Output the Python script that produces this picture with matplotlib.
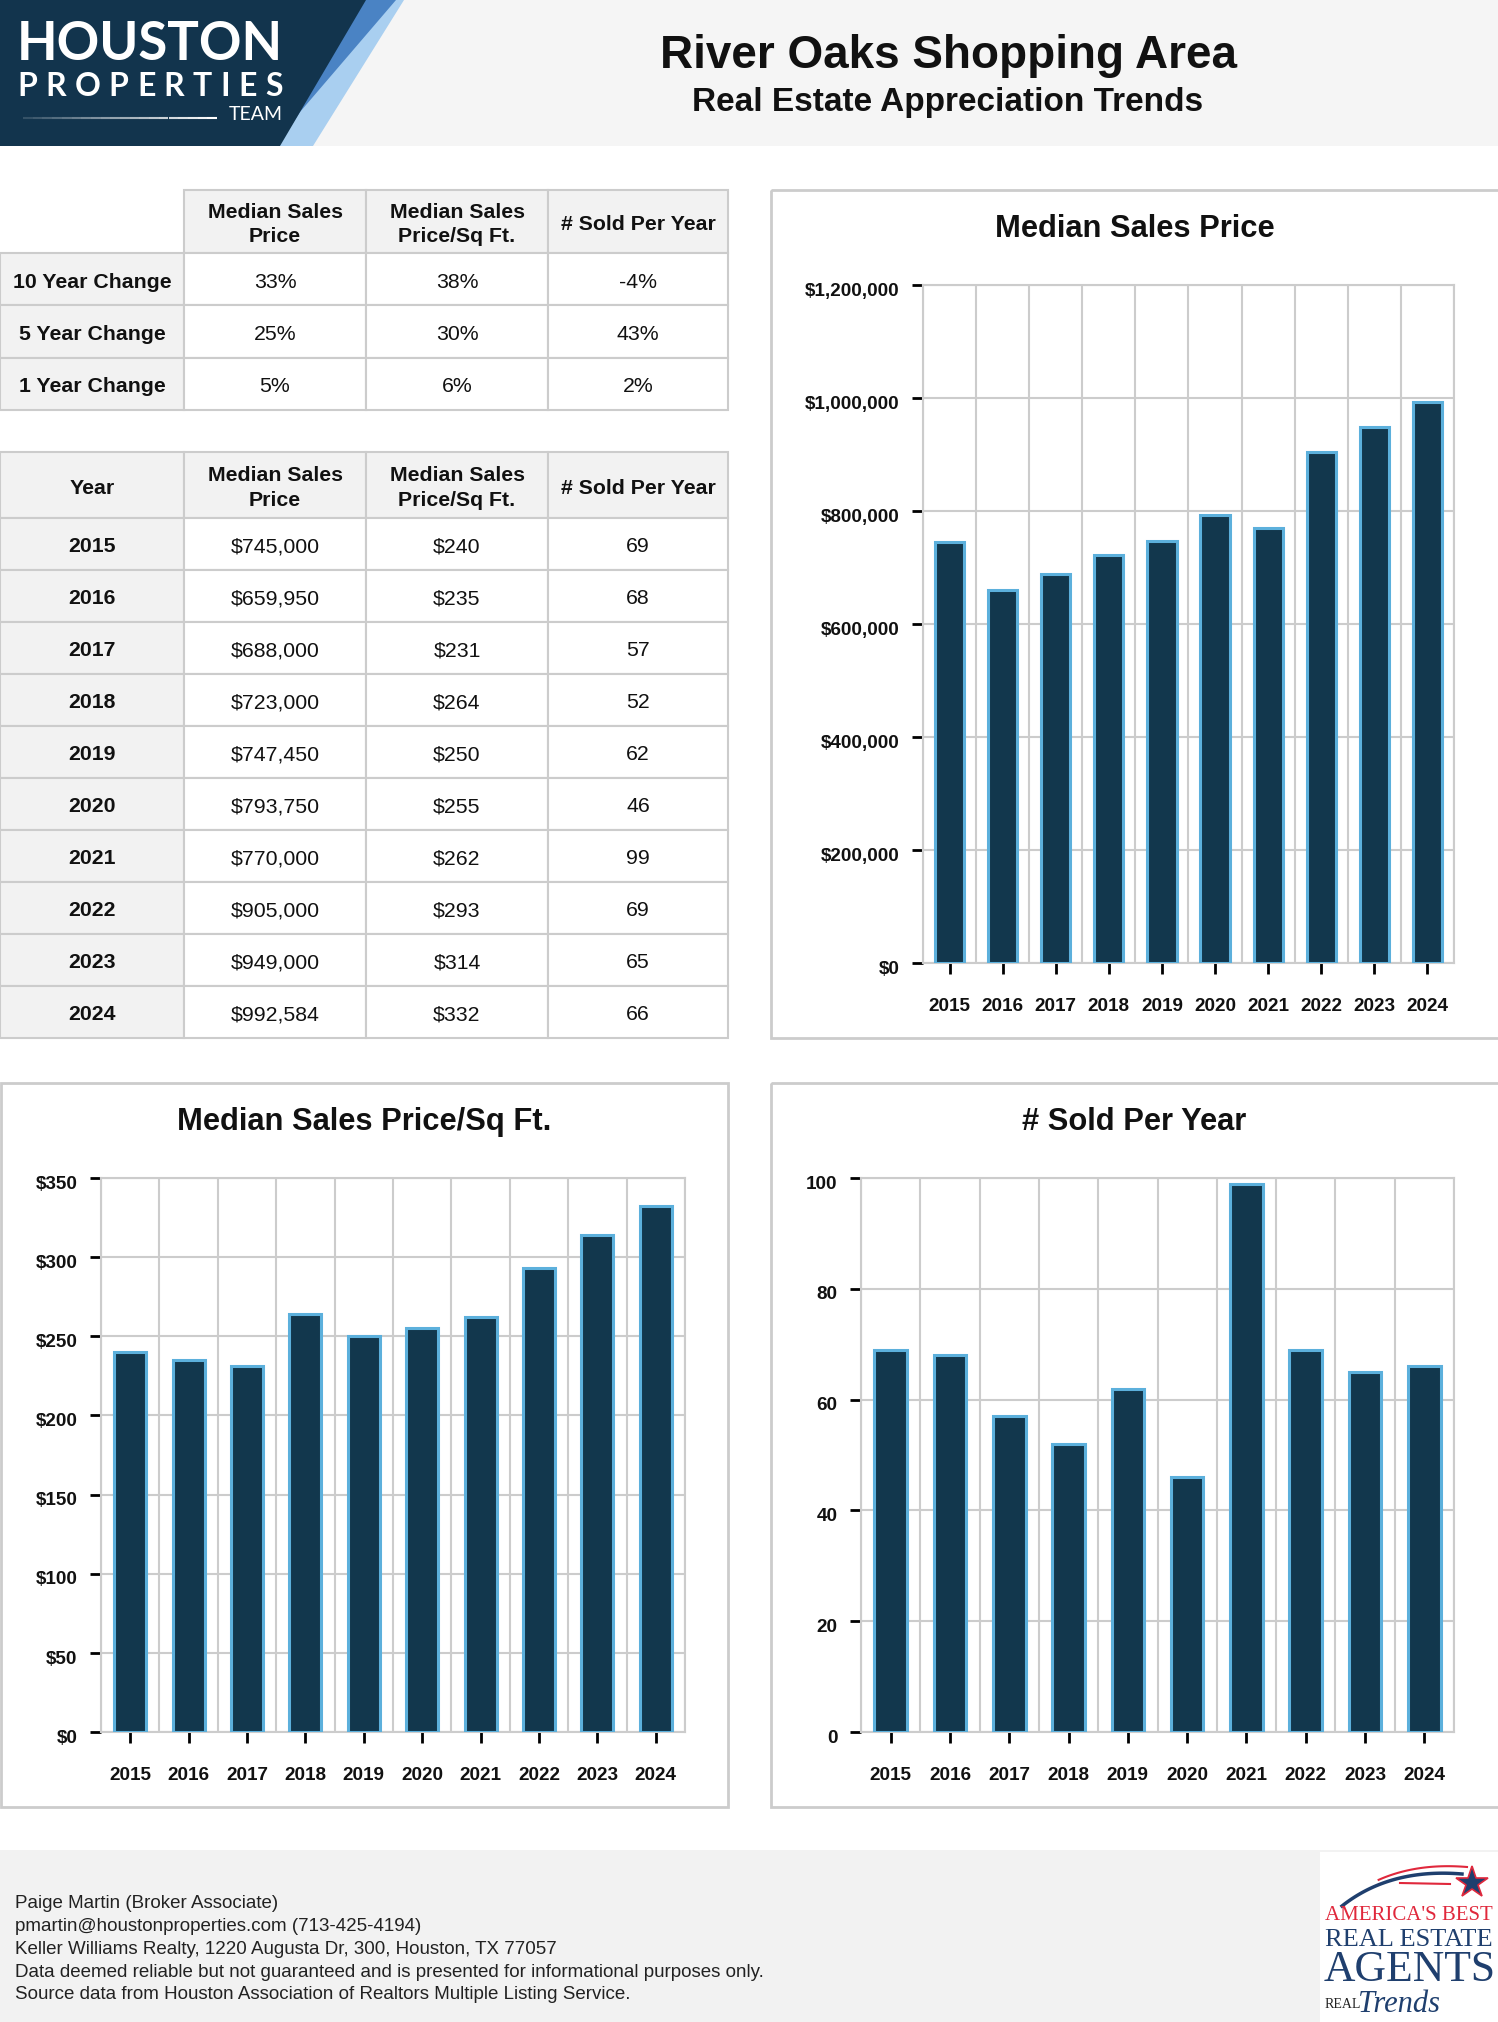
import numpy as np
import matplotlib
matplotlib.use("Agg")
import matplotlib.pyplot as plt
from matplotlib.patches import Rectangle, Polygon
from matplotlib.ticker import FuncFormatter
from matplotlib.transforms import ScaledTranslation

plt.rcParams['font.family'] = ['Liberation Sans', 'DejaVu Sans']

W, H = 1498, 2022

# data
years = [2015, 2016, 2017, 2018, 2019, 2020, 2021, 2022, 2023, 2024]
median_price = [745000, 659950, 688000, 723000, 747450, 793750, 770000, 905000, 949000, 992584]
price_sqft = [240, 235, 231, 264, 250, 255, 262, 293, 314, 332]
sold_per_year = [69, 68, 57, 52, 62, 46, 99, 69, 65, 66]

change_labels = ["10 Year Change", "5 Year Change", "1 Year Change"]
change_price = [33, 25, 5]
change_sqft = [38, 30, 6]
change_sold = [-4, 43, 2]

col_headers = ["Median Sales\nPrice", "Median Sales\nPrice/Sq Ft.", "# Sold Per Year"]

footer_lines = [
    "Paige Martin (Broker Associate)",
    "pmartin@houstonproperties.com (713-425-4194)",
    "Keller Williams Realty, 1220 Augusta Dr, 300, Houston, TX 77057",
    "Data deemed reliable but not guaranteed and is presented for informational purposes only.",
    "Source data from Houston Association of Realtors Multiple Listing Service.",
]

NAVY = '#12374d'
EDGE = '#5cb0dc'
GRID = '#cccccc'
GRAY = '#f2f2f2'

fig = plt.figure(figsize=(W / 100, H / 100), dpi=100)
bg = fig.add_axes([0, 0, 1, 1])
bg.set_xlim(0, W)
bg.set_ylim(H, 0)
bg.axis('off')
renderer = fig.canvas.get_renderer()


def px_axes(l, t, r, b):
    return fig.add_axes([l / W, 1 - b / H, (r - l) / W, (b - t) / H])


def fit_text(x, y, s, width, size=20, **kw):
    t = bg.text(x, y, s, fontsize=size, **kw)
    w = t.get_window_extent(renderer).width
    t.set_fontsize(size * width / w)
    return t


def spaced_text(x0, x1, y, s, size, **kw):
    ts = [bg.text(0, y, c, fontsize=size, ha='left', va='center', **kw) for c in s]
    ws = [t.get_window_extent(renderer).width for t in ts]
    gap = (x1 - x0 - sum(ws)) / (len(s) - 1)
    x = x0
    for t, w in zip(ts, ws):
        t.set_x(x)
        x += w + gap


# header band + logo
bg.add_patch(Rectangle((0, 0), W, 146, facecolor='#f5f5f5', edgecolor='none'))
bg.add_patch(Polygon([(365, 0), (404, 0), (313, 146), (278, 146)], facecolor='#a9cff0', edgecolor='none'))
bg.add_patch(Polygon([(362, 0), (396, 0), (300, 112), (282, 140)], facecolor='#4a83c4', edgecolor='none'))
bg.add_patch(Polygon([(0, 0), (366, 0), (280, 146), (0, 146)], facecolor='#12344d', edgecolor='none'))
fit_text(17, 44, "HOUSTON", 266, size=40, color='white', fontweight='bold',
         family=['Lato', 'DejaVu Sans'], ha='left', va='center')
spaced_text(17, 283, 87, "PROPERTIES", 23, color='white', fontweight='bold',
            family=['Lato', 'DejaVu Sans'])
bg.text(283, 115, "TEAM", fontsize=14, color='white', ha='right', va='center',
        family=['Lato', 'DejaVu Sans'])
for i in range(20):
    x0 = 23 + i * 9.7
    bg.plot([x0, x0 + 9.7], [118, 118], color='white', lw=1.5, alpha=0.15 + 0.85 * i / 19,
            solid_capstyle='butt')

bg.text(948, 56, "River Oaks Shopping Area", ha='center', va='center', fontsize=33,
        fontweight='bold', color='#111111')
bg.text(948, 103, "Real Estate Appreciation Trends", ha='center', va='center', fontsize=24,
        fontweight='bold', color='#111111')

# tables
col_x = [0, 184, 366, 548, 728]


def cell(l, t, r, b, text, fill, bold, border=True):
    bg.add_patch(Rectangle((l, t), r - l, b - t, facecolor=fill,
                           edgecolor=GRID if border else 'none', lw=1.5))
    if text:
        bg.text((l + r) / 2, (t + b) / 2 + 3, text, ha='center', va='center', fontsize=15.3,
                fontweight='bold' if bold else 'normal', color='#111111', linespacing=1.4)


def header_row(t, b, first):
    if first:
        cell(col_x[0], t, col_x[1], b, first, GRAY, True)
    for j, h in enumerate(col_headers):
        cell(col_x[j + 1], t, col_x[j + 2], b, h, GRAY, True)


header_row(190, 253, None)
ys = np.linspace(253, 410, len(change_labels) + 1)
for i, lab in enumerate(change_labels):
    vals = [f"{change_price[i]}%", f"{change_sqft[i]}%", f"{change_sold[i]}%"]
    cell(col_x[0], ys[i], col_x[1], ys[i + 1], lab, GRAY, True)
    for j, v in enumerate(vals):
        cell(col_x[j + 1], ys[i], col_x[j + 2], ys[i + 1], v, 'white', False)

header_row(452, 518, "Year")
ys = np.linspace(518, 1038, len(years) + 1)
for i, yr in enumerate(years):
    vals = [f"${median_price[i]:,}", f"${price_sqft[i]:,}", f"{sold_per_year[i]}"]
    cell(col_x[0], ys[i], col_x[1], ys[i + 1], str(yr), GRAY, True)
    for j, v in enumerate(vals):
        cell(col_x[j + 1], ys[i], col_x[j + 2], ys[i + 1], v, 'white', False)


# charts
def bar_panel(box, plot, title, values, ymax, step, fmt):
    l, t, r, b = box
    bg.add_patch(Rectangle((l, t), r - l, b - t, fill=False, edgecolor=GRID, lw=2))
    bg.text((l + min(r, W)) / 2, t + 39, title, ha='center', va='center', fontsize=22.2,
            fontweight='bold', color='#111111')
    ax = px_axes(*plot)
    x = np.arange(len(years))
    ax.bar(x, values, width=0.55, color=NAVY, edgecolor=EDGE, linewidth=2.2, zorder=3)
    ax.set_xlim(-0.5, len(years) - 0.5)
    ax.set_ylim(0, ymax)
    ax.set_yticks(np.arange(0, ymax + step, step))
    ax.yaxis.set_major_formatter(FuncFormatter(fmt))
    ax.set_xticks(x)
    ax.set_xticklabels(years)
    ax.set_xticks(np.arange(-0.5, len(years), 1), minor=True)
    ax.grid(True, which='minor', axis='x', color=GRID, lw=1.5)
    ax.grid(True, which='major', axis='y', color=GRID, lw=1.5)
    ax.tick_params(axis='x', which='minor', length=0)
    ax.tick_params(axis='both', which='major', direction='out', length=8, width=2,
                   color='black', labelsize=13.6, labelcolor='#111111')
    ax.tick_params(axis='x', pad=17)
    ax.tick_params(axis='y', pad=9)
    for lab in ax.get_xticklabels() + ax.get_yticklabels():
        lab.set_fontweight('bold')
    shift = ScaledTranslation(0, -3 / 72, fig.dpi_scale_trans)
    for tk in ax.yaxis.get_major_ticks():
        tk.label1.set_transform(tk.label1.get_transform() + shift)
    for sp in ax.spines.values():
        sp.set_color(GRID)
        sp.set_linewidth(1.5)
    ax.set_axisbelow(True)
    return ax


bar_panel((771, 190, 1502, 1038), (923, 285, 1454, 963), "Median Sales Price",
          median_price, 1200000, 200000, lambda v, p: f"${int(v):,}")
bar_panel((1, 1083, 728, 1807), (101, 1178, 685, 1732), "Median Sales Price/Sq Ft.",
          price_sqft, 350, 50, lambda v, p: f"${int(v):,}")
bar_panel((771, 1083, 1502, 1807), (861, 1178, 1454, 1732), "# Sold Per Year",
          sold_per_year, 100, 20, lambda v, p: f"{int(v)}")

# footer
bg.add_patch(Rectangle((0, 1850), W, H - 1850, facecolor=GRAY, edgecolor='none'))
for i, line in enumerate(footer_lines):
    bg.text(15, 1904 + i * 22.7, line, ha='left', va='center', fontsize=13.5, color='#222222')

# footer badge
bg.add_patch(Rectangle((1320, 1852), W - 1320, H - 1852, facecolor='white', edgecolor='none'))
tt = np.linspace(0, 1, 50)
bx = (1 - tt) ** 2 * 1342 + 2 * (1 - tt) * tt * 1390 + tt ** 2 * 1462
by = (1 - tt) ** 2 * 1906 + 2 * (1 - tt) * tt * 1868 + tt ** 2 * 1874
bg.plot(bx, by, color='#1f3f6e', lw=2.5)
bg.plot(bx[15:] + 5, by[15:] - 7, color='#e0283c', lw=1.5)
bg.plot([1400, 1450], [1883, 1884], color='#e0283c', lw=1.5)
bg.plot([1472], [1883], marker='*', ms=24, color='#1f3f6e', mec='#e0283c', mew=1.2)
serif = ['Liberation Serif', 'DejaVu Serif']
fit_text(1325, 1916, "AMERICA'S BEST", 168, size=16, color='#e0283c', family=serif,
         ha='left', va='center')
fit_text(1325, 1940, "REAL ESTATE", 168, size=18, color='#1f3f6e', family=serif,
         ha='left', va='center')
fit_text(1324, 1970, "AGENTS", 172, size=30, color='#1f3f6e', family=serif,
         ha='left', va='center')
bg.text(1325, 2004, "REAL", fontsize=10, color='#222222', family=serif, ha='left',
        va='center')
bg.text(1358, 2004, "Trends", fontsize=22, color='#1f3f6e', family=serif,
        style='italic', ha='left', va='center')

fig.savefig("out.png", dpi=100)
